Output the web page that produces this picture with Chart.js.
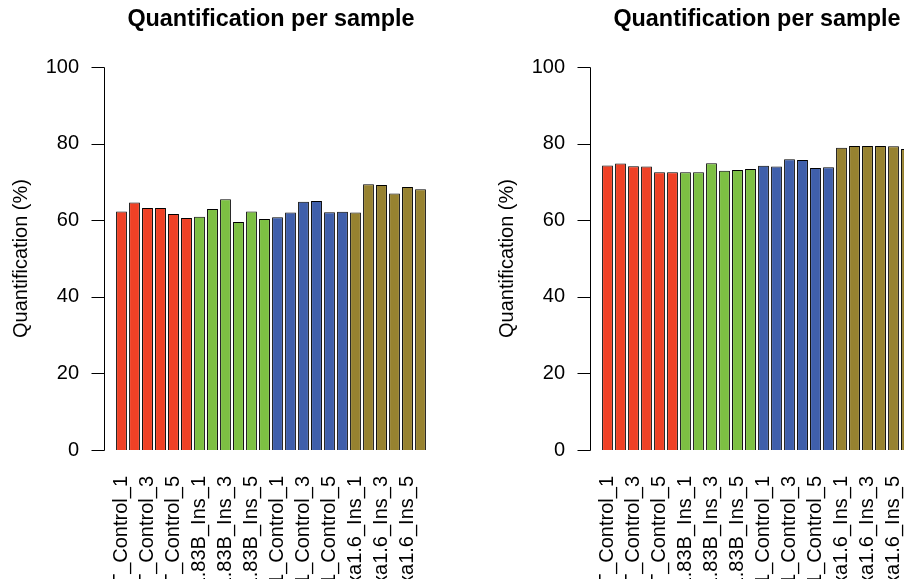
<!DOCTYPE html>
<html>
<head>
<meta charset="utf-8">
<script src="https://cdn.jsdelivr.net/npm/chart.js@4/dist/chart.umd.min.js"></script>
<style>
  html, body { margin: 0; padding: 0; background: #fff; overflow: hidden; width: 904px; height: 579px; }
  .panel { position: absolute; top: 0; }
</style>
</head>
<body>
<canvas id="left" class="panel" width="486" height="579" style="left:0px"></canvas>
<canvas id="right" class="panel" width="486" height="579" style="left:486px"></canvas>
<script>
// sample names (bottom labels, every other one is shown like in R)
const sampleNames = [
  "WT_Control_1", "WT_Control_2", "WT_Control_3", "WT_Control_4", "WT_Control_5", "WT_Control_6",
  "Mut1.83B_Ins_1", "Mut1.83B_Ins_2", "Mut1.83B_Ins_3", "Mut1.83B_Ins_4", "Mut1.83B_Ins_5", "Mut1.83B_Ins_6",
  "KO1_Control_1", "KO1_Control_2", "KO1_Control_3", "KO1_Control_4", "KO1_Control_5", "KO1_Control_6",
  "Hoxa1.6_Ins_1", "Hoxa1.6_Ins_2", "Hoxa1.6_Ins_3", "Hoxa1.6_Ins_4", "Hoxa1.6_Ins_5", "Hoxa1.6_Ins_6"
];
const sampleGroups = [0,0,0,0,0,0, 1,1,1,1,1,1, 2,2,2,2,2,2, 3,3,3,3,3,3];
const groupColors = ["#EF4126", "#7DC043", "#3F5FAB", "#978230"];

const leftValues = [
  62.3, 64.6, 63.2, 63.2, 61.6, 60.6,
  60.9, 62.9, 65.5, 59.5, 62.3, 60.3,
  60.8, 62.0, 64.8, 65.0, 62.1, 62.2,
  62.0, 69.4, 69.2, 67.0, 68.7, 68.1
];
const rightValues = [
  74.3, 74.8, 74.1, 74.0, 72.5, 72.5,
  72.5, 72.5, 74.9, 72.9, 73.1, 73.4,
  74.2, 74.0, 75.9, 75.7, 73.6, 73.8,
  78.9, 79.4, 79.4, 79.4, 79.3, 78.6
];

const yTicks = [0, 20, 40, 60, 80, 100];
const titleText = "Quantification per sample";
const yTitle = "Quantification (%)";
const fam = '"Liberation Sans", Arial, Helvetica, sans-serif';

// R style detached y axis + main title
const rAxis = {
  id: "rAxis",
  afterDraw(chart) {
    const ctx = chart.ctx;
    const y = chart.scales.y;
    const area = chart.chartArea;
    const ax = area.left - 10.5;
    ctx.save();
    ctx.strokeStyle = "#000";
    ctx.lineWidth = 1;
    ctx.beginPath();
    ctx.moveTo(ax, Math.round(y.getPixelForValue(0)) + 0.5);
    ctx.lineTo(ax, Math.round(y.getPixelForValue(100)) + 0.5);
    yTicks.forEach(v => {
      const py = Math.round(y.getPixelForValue(v)) + 0.5;
      ctx.moveTo(ax - 13, py);
      ctx.lineTo(ax, py);
    });
    ctx.stroke();
    ctx.font = "bold 23.4px " + fam;
    ctx.fillStyle = "#000";
    ctx.textAlign = "center";
    ctx.textBaseline = "alphabetic";
    ctx.fillText(titleText, (area.left + area.right) / 2, 26);
    ctx.restore();
  }
};

function makeChart(id, values) {
  return new Chart(document.getElementById(id), {
    type: "bar",
    data: {
      labels: sampleNames,
      datasets: [{
        data: values,
        backgroundColor: sampleGroups.map(g => groupColors[g]),
        borderColor: "#000",
        borderWidth: 1,
        barPercentage: 0.833,
        categoryPercentage: 1
      }]
    },
    options: {
      responsive: false,
      animation: false,
      layout: { padding: { top: 67, right: 59, left: 0, bottom: 0 } },
      plugins: {
        legend: { display: false },
        tooltip: { enabled: false },
        title: { display: false }
      },
      scales: {
        x: {
          grid: { display: false },
          border: { display: false },
          ticks: {
            autoSkip: false,
            minRotation: 90,
            maxRotation: 90,
            padding: 18,
            color: "#000",
            font: { size: 20, family: fam },
            callback(v, i) { return i % 2 === 0 ? this.getLabelForValue(v) : ""; }
          },
          afterFit(s) { s.height = 129; }
        },
        y: {
          min: 0,
          max: 100,
          grid: { display: false },
          border: { display: false },
          ticks: { stepSize: 20, padding: 28, color: "#000", font: { size: 20, family: fam } },
          title: {
            display: true,
            text: yTitle,
            color: "#000",
            font: { size: 20, family: fam },
            padding: { top: 9, bottom: 0 }
          },
          afterFit(s) { s.width = 115; }
        }
      }
    },
    plugins: [rAxis]
  });
}

makeChart("left", leftValues);
makeChart("right", rightValues);
</script>
</body>
</html>
